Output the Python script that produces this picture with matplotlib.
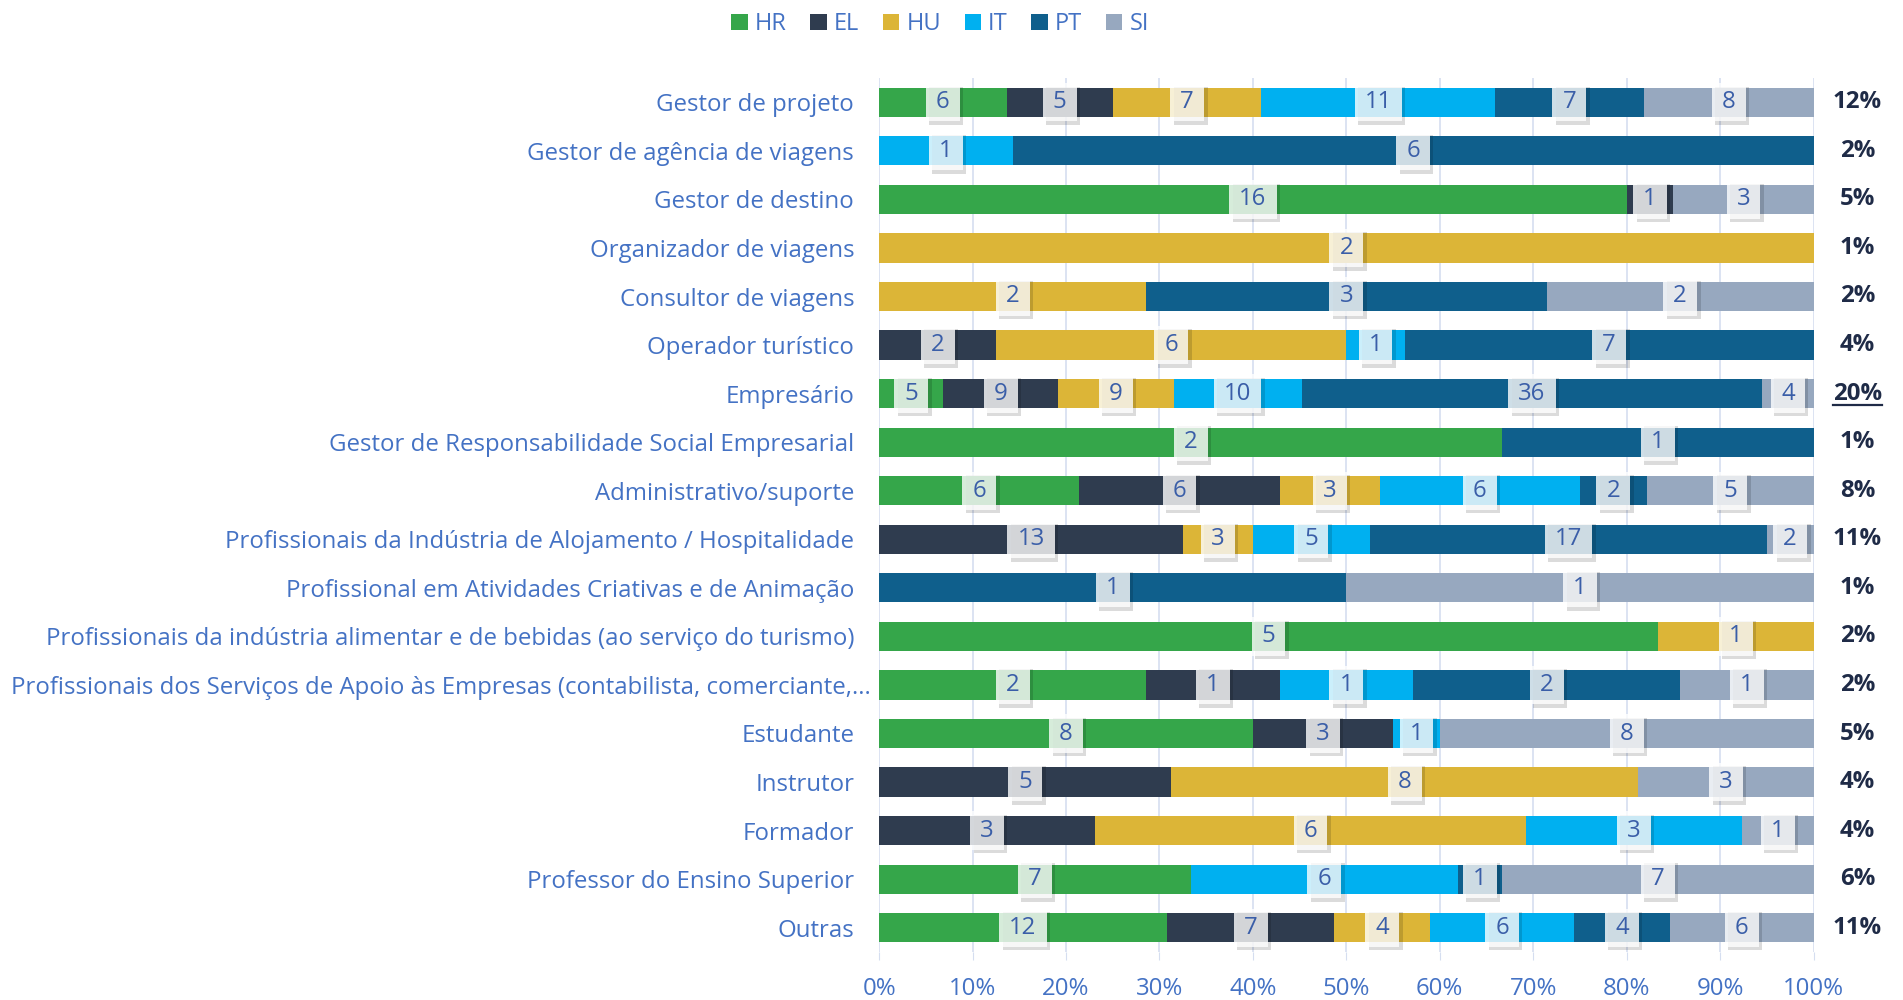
import matplotlib
matplotlib.use("Agg")
import matplotlib.pyplot as plt
import matplotlib.patheffects as pe
import matplotlib.transforms as mtrans
from matplotlib.path import Path
import numpy as np

plt.rcParams['font.family'] = ['Open Sans', 'DejaVu Sans']

# Categories (top to bottom)
categories = [
    "Gestor de projeto",
    "Gestor de agência de viagens",
    "Gestor de destino",
    "Organizador de viagens",
    "Consultor de viagens",
    "Operador turístico",
    "Empresário",
    "Gestor de Responsabilidade Social Empresarial",
    "Administrativo/suporte",
    "Profissionais da Indústria de Alojamento / Hospitalidade",
    "Profissional em Atividades Criativas e de Animação",
    "Profissionais da indústria alimentar e de bebidas (ao serviço do turismo)",
    "Profissionais dos Serviços de Apoio às Empresas (contabilista, comerciante,...",
    "Estudante",
    "Instrutor",
    "Formador",
    "Professor do Ensino Superior",
    "Outras",
]

series = ["HR", "EL", "HU", "IT", "PT", "SI"]

# counts per category
HR = [6, 0, 16, 0, 0, 0, 5, 2, 6, 0, 0, 5, 2, 8, 0, 0, 7, 12]
EL = [5, 0, 1, 0, 0, 2, 9, 0, 6, 13, 0, 0, 1, 3, 5, 3, 0, 7]
HU = [7, 0, 0, 2, 2, 6, 9, 0, 3, 3, 0, 1, 0, 0, 8, 6, 0, 4]
IT = [11, 1, 0, 0, 0, 1, 10, 0, 6, 5, 0, 0, 1, 1, 0, 3, 6, 6]
PT = [7, 6, 0, 0, 3, 7, 36, 1, 2, 17, 1, 0, 2, 0, 0, 0, 1, 4]
SI = [8, 0, 3, 0, 2, 0, 4, 0, 5, 2, 1, 0, 1, 8, 3, 1, 7, 6]

share_labels = ["12%", "2%", "5%", "1%", "2%", "4%", "20%", "1%", "8%",
                "11%", "1%", "2%", "2%", "5%", "4%", "4%", "6%", "11%"]

colors = ["#35a64a", "#2f3c4f", "#dcb537", "#00b0f0", "#0f5f8c", "#97a8bf"]

counts = np.array([HR, EL, HU, IT, PT, SI], dtype=float)
totals = counts.sum(axis=0)
pct = counts / totals * 100

FS = 17.3


def label_box(x0, y0, width, height, mutation_size):
    # wider horizontal padding than vertical, like the original data labels
    px = 0.42 * mutation_size
    py = 0.3 * mutation_size
    x0, y0 = x0 - px, y0 - py
    x1, y1 = x0 + width + 2 * px, y0 + height + 2 * py
    return Path([(x0, y0), (x1, y0), (x1, y1), (x0, y1), (x0, y0)],
                closed=True)


fig = plt.figure(figsize=(19.03, 10), dpi=100)
ax = fig.add_axes([0.462, 0.048, 0.491, 0.874])

y = np.arange(len(categories))
left = np.zeros(len(categories))
handles = []
for i, name in enumerate(series):
    bars = ax.barh(y, pct[i], left=left, height=0.6, color=colors[i],
                   label=name, zorder=2)
    handles.append(bars)
    for j in range(len(categories)):
        if counts[i, j] > 0:
            t = ax.text(left[j] + pct[i, j] / 2, y[j], str(int(counts[i, j])),
                        ha="center", va="center", fontsize=FS,
                        color="#3a5ea8", zorder=4,
                        bbox=dict(boxstyle=label_box, fc="white",
                                  ec="none", alpha=0.8))
            t.get_bbox_patch().set_path_effects(
                [pe.SimplePatchShadow(offset=(2.5, -2.5), shadow_rgbFace="#000000",
                                      alpha=0.14), pe.Normal()])
    left += pct[i]

ax.set_xlim(0, 100)
ax.set_ylim(len(categories) - 0.5, -0.5)
ax.set_yticks(y)
ax.set_yticklabels(categories, fontsize=FS, color="#4472c4")
ax.set_xticks(np.arange(0, 101, 10))
ax.set_xticklabels([f"{v}%" for v in range(0, 101, 10)], fontsize=FS,
                   color="#4472c4")
ax.tick_params(axis="y", length=0, pad=18)
ax.tick_params(axis="x", length=6, color="#d5def0", pad=12)
ax.grid(axis="x", color="#d5def0", linewidth=1.2, zorder=0)
for s in ax.spines.values():
    s.set_visible(False)

# the long truncated label sits a bit further right in the original
long_lab = ax.get_yticklabels()[12]
long_lab.set_transform(long_lab.get_transform() +
                       mtrans.ScaledTranslation(12 / 72, 0, fig.dpi_scale_trans))

share_texts = []
for j, lab in enumerate(share_labels):
    st = ax.text(1.047, y[j], lab, transform=ax.get_yaxis_transform(),
                 ha="center", va="center", fontsize=FS, fontweight="bold",
                 color="#1f2b47")
    share_texts.append(st)

leg = fig.legend(handles=handles, loc="upper center", ncol=6,
                 bbox_to_anchor=(0.494, 1.009), frameon=False, fontsize=17,
                 handlelength=0.7, handleheight=0.7, handletextpad=0.3,
                 columnspacing=1.0)
for txt in leg.get_texts():
    txt.set_color("#4472c4")

# underline for the highlighted share label
fig.canvas.draw()
bb = share_texts[6].get_window_extent()
fw, fh = fig.get_size_inches() * fig.dpi
fig.add_artist(plt.Line2D([bb.x0 / fw, bb.x1 / fw],
                          [(bb.y0 + 1) / fh, (bb.y0 + 1) / fh],
                          color="#1f2b47", linewidth=1.6))

fig.savefig("out.png", dpi=100)
